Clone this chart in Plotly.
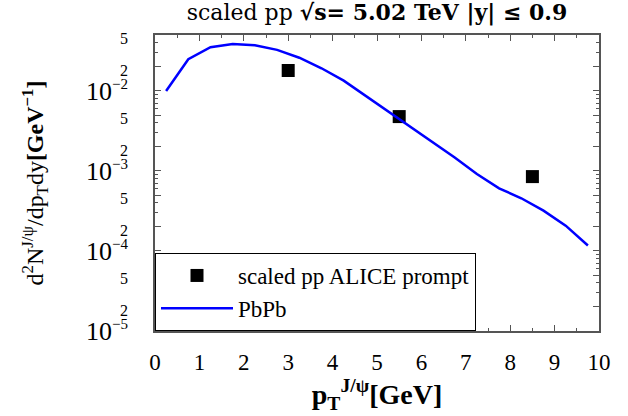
import plotly.graph_objects as go

# Data
pt_curve = [0.25, 0.75, 1.25, 1.75, 2.25, 2.75, 3.25, 3.75, 4.25, 4.75,
            5.25, 5.75, 6.25, 6.75, 7.25, 7.75, 8.25, 8.75, 9.25, 9.75]
pbpb = [0.0100, 0.0249, 0.0352, 0.0387, 0.0373, 0.0326, 0.0260, 0.0192, 0.01345, 0.00866,
        0.00552, 0.00358, 0.00229, 0.00147, 0.000917, 0.000607, 0.000456, 0.000319, 0.000207, 0.000117]

pt_pp = [3.0, 5.5, 8.5]
pp_vals = [0.0180, 0.00478, 0.00085]

x_ticks = [0, 1, 2, 3, 4, 5, 6, 7, 8, 9, 10]
y_tickvals = [1e-5, 2e-5, 5e-5, 1e-4, 2e-4, 5e-4, 1e-3, 2e-3, 5e-3, 1e-2, 2e-2, 5e-2]
y_exponents = ["−5", "", "", "−4", "", "", "−3", "", "", "−2", "", ""]
y_mantissas = ["10", "2", "5", "10", "2", "5", "10", "2", "5", "10", "2", "5"]

SERIF = "Liberation Serif"
TSERIF = "DejaVu Serif"

def fmt(m, e):
    if e:
        return m + '<sup><span style="font-size:15px">' + e + '</span></sup>'
    return '<span style="font-size:16px">' + m + '</span>'

y_ticktext = [fmt(m, e) for m, e in zip(y_mantissas, y_exponents)]

y_minor = []
for e in range(-5, -1):
    for m in range(2, 10):
        v = m * 10 ** e
        if v <= 0.05:
            y_minor.append(v)

fig = go.Figure()
fig.add_trace(go.Scatter(
    x=pt_pp, y=pp_vals, mode="markers", name="scaled pp ALICE prompt",
    marker=dict(symbol="square", size=13, color="black"),
))
fig.add_trace(go.Scatter(
    x=pt_curve, y=pbpb, mode="lines", name="PbPb",
    line=dict(color="#0000ff", width=2.5),
))

fig.update_layout(
    width=628, height=416,
    margin=dict(l=155, r=29, t=35, b=85),
    plot_bgcolor="white", paper_bgcolor="white",
    font=dict(family=SERIF, color="black", size=18),
    title=dict(text="scaled pp <b>√s= 5.02 TeV |y| ≤ 0.9</b>",
               xref="paper", x=0.5, xanchor="center", y=0.99, yanchor="top",
               font=dict(size=22, family=TSERIF)),
    showlegend=True,
    legend=dict(x=0, y=0, xanchor="left", yanchor="bottom",
                bgcolor="white", bordercolor="black", borderwidth=1,
                font=dict(size=23, family=SERIF), itemwidth=72,
                tracegroupgap=0),
)

fig.update_xaxes(
    range=[0, 10], tickvals=x_ticks, ticktext=[str(v) for v in x_ticks],
    ticks="inside", ticklen=6, tickcolor="#555", tickwidth=1,
    showline=True, linecolor="#555", linewidth=1.5, mirror="allticks",
    showgrid=False, zeroline=False,
    tickfont=dict(size=23, family=SERIF),
    ticklabelstandoff=10,
    minor=dict(ticks="inside", ticklen=3, dtick=0.5, tickcolor="#555", showgrid=False),
    title=dict(text="<b>p<sub>T</sub><sup>J/ψ</sup>[GeV]</b>", font=dict(size=28, family=SERIF), standoff=4),
)
fig.update_yaxes(
    type="log", range=[-5, -1.30103],
    tickvals=y_tickvals, ticktext=y_ticktext,
    ticks="inside", ticklen=6, tickcolor="#555", tickwidth=1,
    showline=True, linecolor="#555", linewidth=1.5, mirror="allticks",
    showgrid=False, zeroline=False,
    tickfont=dict(size=26, family=SERIF),
    ticklabelstandoff=20,
    minor=dict(ticks="inside", ticklen=3, tickvals=y_minor, tickcolor="#555", showgrid=False),
    title=dict(text="d<sup>2</sup>N<sup>J/ψ</sup>/dp<sub>T</sub>dy<b>[GeV<sup>−1</sup>]</b>",
               font=dict(size=24, family=SERIF), standoff=36),
)

fig.write_html("out.html")
